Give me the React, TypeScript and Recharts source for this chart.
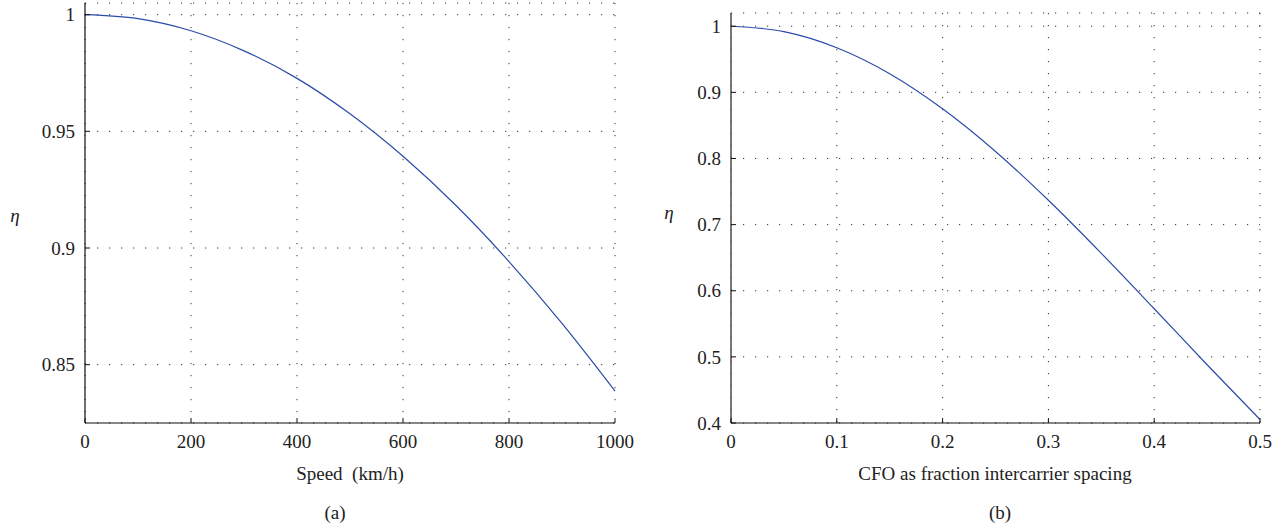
import React from 'react';
import { LineChart, Line, XAxis, YAxis, CartesianGrid } from 'recharts';

const speedKmh = [0, 100, 200, 300, 400, 500, 600, 700, 800, 900, 1000];
const etaSpeed = [1.0, 0.9983, 0.9931, 0.9845, 0.9727, 0.9575, 0.9393, 0.9182, 0.8942, 0.8677, 0.8387];
const cfoFraction = [0, 0.05, 0.1, 0.15, 0.2, 0.25, 0.3, 0.35, 0.4, 0.45, 0.5];
const etaCfo = [1.0, 0.9918, 0.9675, 0.9282, 0.8751, 0.8106, 0.7368, 0.6566, 0.5728, 0.4881, 0.4053];

const speedTicks = [0, 200, 400, 600, 800, 1000];
const etaSpeedTicks = [0.85, 0.9, 0.95, 1];
const cfoTicks = [0, 0.1, 0.2, 0.3, 0.4, 0.5];
const etaCfoTicks = [0.4, 0.5, 0.6, 0.7, 0.8, 0.9, 1];

const speedData = speedKmh.map((s, i) => ({ x: s, eta: etaSpeed[i] }));
const cfoData = cfoFraction.map((c, i) => ({ x: c, eta: etaCfo[i] }));

const FONT = '"Liberation Serif", "DejaVu Serif", serif';
const FS = 19;
const TXT = '#222';
const LINE = '#2b4ca8';

const YTick = (props: any) => {
  const { x, y, payload } = props;
  const ax = x + 10;
  return (
    <g>
      <line x1={ax} x2={ax + 5} y1={y} y2={y} stroke="#111" strokeWidth={1} />
      <text x={x} y={y} dy="0.35em" textAnchor="end" fontFamily={FONT} fontSize={FS} fill={TXT}>
        {String(payload.value)}
      </text>
    </g>
  );
};

const XTick = (props: any) => {
  const { x, y, payload } = props;
  const ay = y - 10;
  return (
    <g>
      <line x1={x} x2={x} y1={ay} y2={ay - 5} stroke="#111" strokeWidth={1} />
      <text x={x} y={y} dy="0.78em" textAnchor="middle" fontFamily={FONT} fontSize={FS} fill={TXT}>
        {String(payload.value)}
      </text>
    </g>
  );
};

const Lbl = ({ x, y, children, italic }: any) => (
  <div
    style={{
      position: 'absolute',
      left: x,
      top: y,
      transform: 'translate(-50%, -50%)',
      whiteSpace: 'pre',
      fontFamily: FONT,
      fontSize: FS,
      color: TXT,
      lineHeight: 1,
      fontStyle: italic ? 'italic' : 'normal',
    }}
  >
    {children}
  </div>
);

export default function App() {
  return (
    <div style={{ position: 'absolute', left: 0, top: 0, width: 1285, height: 527, background: '#fff', overflow: 'hidden' }}>
      <div style={{ position: 'absolute', left: 0, top: 0 }}>
        <LineChart width={640} height={527} data={speedData} margin={{ top: 3, right: 25, bottom: 0, left: 0 }}>
          <CartesianGrid stroke="#333" strokeDasharray="1.2 10.8" />
          <XAxis
            dataKey="x"
            type="number"
            domain={[0, 1000]}
            ticks={speedTicks}
            height={104}
            tickSize={8}
            tickMargin={2}
            tickLine={false}
            tick={<XTick />}
            axisLine={{ stroke: '#111', strokeWidth: 1.2 }}
          />
          <YAxis
            type="number"
            domain={[0.825, 1.005]}
            ticks={etaSpeedTicks}
            width={85}
            tickSize={8}
            tickMargin={2}
            tickLine={false}
            tick={<YTick />}
            axisLine={{ stroke: '#111', strokeWidth: 1.2 }}
            allowDataOverflow
          />
          <Line dataKey="eta" type="monotone" stroke={LINE} strokeWidth={1.2} dot={false} isAnimationActive={false} />
        </LineChart>
      </div>
      <div style={{ position: 'absolute', left: 645, top: 0 }}>
        <LineChart width={640} height={527} data={cfoData} margin={{ top: 13, right: 25, bottom: 0, left: 0 }}>
          <CartesianGrid stroke="#333" strokeDasharray="1.2 10.8" />
          <XAxis
            dataKey="x"
            type="number"
            domain={[0, 0.5]}
            ticks={cfoTicks}
            height={104}
            tickSize={8}
            tickMargin={2}
            tickLine={false}
            tick={<XTick />}
            axisLine={{ stroke: '#111', strokeWidth: 1.2 }}
          />
          <YAxis
            type="number"
            domain={[0.4, 1.02]}
            ticks={etaCfoTicks}
            width={86}
            tickSize={8}
            tickMargin={2}
            tickLine={false}
            tick={<YTick />}
            axisLine={{ stroke: '#555', strokeWidth: 1.6 }}
            allowDataOverflow
          />
          <Line dataKey="eta" type="monotone" stroke={LINE} strokeWidth={1.2} dot={false} isAnimationActive={false} />
        </LineChart>
      </div>
      <Lbl x={15} y={215} italic>η</Lbl>
      <Lbl x={669} y={212} italic>η</Lbl>
      <Lbl x={350} y={473}>{'Speed  (km/h)'}</Lbl>
      <Lbl x={995} y={473}>CFO as fraction intercarrier spacing</Lbl>
      <Lbl x={335} y={512}>(a)</Lbl>
      <Lbl x={1000} y={512}>(b)</Lbl>
    </div>
  );
}
